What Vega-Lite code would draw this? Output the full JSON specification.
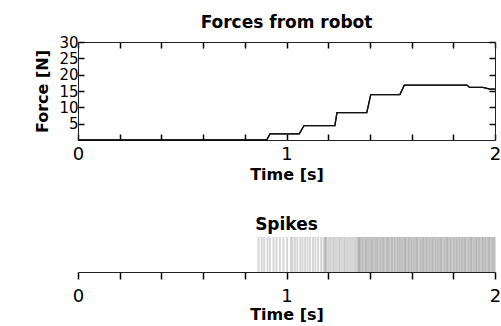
{
  "$schema": "https://vega.github.io/schema/vega-lite/v6.json",
  "padding": {"left": 34, "top": 14, "right": 0, "bottom": 0},
  "config": {
    "view": {"stroke": null},
    "font": "DejaVu Sans",
    "axis": {"labelFont": "DejaVu Sans", "labelFontSize": 15, "labelColor": "black", "titleFont": "DejaVu Sans", "titleFontSize": 16, "titleFontWeight": "bold", "titleColor": "black", "domainColor": "#222", "ticks": true, "tickColor": "black", "tickOpacity": 1, "tickWidth": 1.5, "grid": false, "labelFlush": false, "labelOverlap": false},
    "title": {"font": "DejaVu Sans", "fontSize": 17, "fontWeight": "bold", "color": "black"},
    "concat": {"spacing": 34}
  },
  "datasets": {
    "force": [
      {"time": 0, "force": 0}, {"time": 0.905, "force": 0}, {"time": 0.921, "force": 1.9}, {"time": 1.061, "force": 1.9},
      {"time": 1.084, "force": 4.4}, {"time": 1.232, "force": 4.4}, {"time": 1.242, "force": 8.4}, {"time": 1.385, "force": 8.4},
      {"time": 1.404, "force": 13.9}, {"time": 1.544, "force": 13.9}, {"time": 1.565, "force": 16.8}, {"time": 1.866, "force": 16.8},
      {"time": 1.878, "force": 16.1}, {"time": 1.942, "force": 16.1}, {"time": 1.976, "force": 15.6}, {"time": 2.0, "force": 15.6}
    ],
    "spikes": [
      {"t": 0.866}, {"t": 0.881}, {"t": 0.893}, {"t": 0.909}, {"t": 0.921}, {"t": 0.938}, {"t": 0.952}, {"t": 0.968}, {"t": 0.985}, {"t": 1.003},
      {"t": 1.021}, {"t": 1.029}, {"t": 1.041}, {"t": 1.052}, {"t": 1.066}, {"t": 1.077}, {"t": 1.089}, {"t": 1.101}, {"t": 1.113}, {"t": 1.127}, {"t": 1.139}, {"t": 1.152}, {"t": 1.166}, {"t": 1.178},
      {"t": 1.186}, {"t": 1.188}, {"t": 1.196}, {"t": 1.205}, {"t": 1.213}, {"t": 1.223}, {"t": 1.231}, {"t": 1.24}, {"t": 1.249}, {"t": 1.257}, {"t": 1.266}, {"t": 1.276}, {"t": 1.284}, {"t": 1.293}, {"t": 1.302}, {"t": 1.311}, {"t": 1.32}, {"t": 1.329}, {"t": 1.337},
      {"t": 1.345}, {"t": 1.347}, {"t": 1.352}, {"t": 1.358}, {"t": 1.364}, {"t": 1.369}, {"t": 1.376}, {"t": 1.381}, {"t": 1.387}, {"t": 1.393}, {"t": 1.398}, {"t": 1.405}, {"t": 1.41}, {"t": 1.416}, {"t": 1.422}, {"t": 1.428}, {"t": 1.433}, {"t": 1.439}, {"t": 1.446}, {"t": 1.451}, {"t": 1.457}, {"t": 1.463}, {"t": 1.468}, {"t": 1.475}, {"t": 1.481}, {"t": 1.486}, {"t": 1.492}, {"t": 1.499},
      {"t": 1.505}, {"t": 1.509}, {"t": 1.517}, {"t": 1.521}, {"t": 1.529}, {"t": 1.534}, {"t": 1.541}, {"t": 1.545}, {"t": 1.552}, {"t": 1.557}, {"t": 1.564}, {"t": 1.569}, {"t": 1.573}, {"t": 1.581}, {"t": 1.586}, {"t": 1.591}, {"t": 1.598}, {"t": 1.603}, {"t": 1.61}, {"t": 1.614}, {"t": 1.621}, {"t": 1.626}, {"t": 1.631}, {"t": 1.639}, {"t": 1.643}, {"t": 1.65}, {"t": 1.655}, {"t": 1.66}, {"t": 1.667}, {"t": 1.672}, {"t": 1.677}, {"t": 1.685}, {"t": 1.689}, {"t": 1.696}, {"t": 1.701}, {"t": 1.706}, {"t": 1.713}, {"t": 1.718}, {"t": 1.725}, {"t": 1.729}, {"t": 1.736}, {"t": 1.741}, {"t": 1.746}, {"t": 1.754}, {"t": 1.758}, {"t": 1.765}, {"t": 1.77}, {"t": 1.775}, {"t": 1.782}, {"t": 1.787}, {"t": 1.792}, {"t": 1.8}, {"t": 1.804}, {"t": 1.811}, {"t": 1.816}, {"t": 1.821}, {"t": 1.828}, {"t": 1.833}, {"t": 1.84}, {"t": 1.844}, {"t": 1.851}, {"t": 1.856}, {"t": 1.861}, {"t": 1.869}, {"t": 1.873}, {"t": 1.88}, {"t": 1.885}, {"t": 1.89}, {"t": 1.897}, {"t": 1.902}, {"t": 1.909}, {"t": 1.913}, {"t": 1.92}, {"t": 1.925}, {"t": 1.93}, {"t": 1.938}, {"t": 1.942}, {"t": 1.949}, {"t": 1.954}, {"t": 1.959}, {"t": 1.966}, {"t": 1.971}, {"t": 1.976}, {"t": 1.984}, {"t": 1.988}, {"t": 1.994}, {"t": 1.999}
    ]
  },
  "vconcat": [
    {
      "title": {"text": "Forces from robot", "offset": 3},
      "width": 417,
      "height": 98,
      "data": {"name": "force"},
      "layer": [
        {
          "mark": {"type": "line", "color": "#111", "strokeWidth": 1.3},
          "encoding": {
            "x": {"field": "time", "type": "quantitative", "scale": {"domain": [0, 2], "nice": false},
              "axis": {"title": "Time [s]", "values": [0, 0.2, 0.4, 0.6, 0.8, 1, 1.2, 1.4, 1.6, 1.8, 2], "tickSize": -6, "labelFontSize": 18, "labelPadding": 11, "format": "~g", "labelOpacity": {"condition": {"test": "datum.value % 1 == 0", "value": 1}, "value": 0}, "titlePadding": 3}},
            "y": {"field": "force", "type": "quantitative", "scale": {"domain": [0, 30], "nice": false},
              "axis": {"title": "Force [N]", "values": [5, 10, 15, 20, 25, 30], "tickSize": -6, "labelPadding": 6, "titlePadding": 8}}
          }
        },
        {
          "mark": {"type": "line", "color": "#111", "strokeWidth": 1.3},
          "encoding": {
            "x": {"field": "time", "type": "quantitative", "scale": {"domain": [0, 2], "nice": false},
              "axis": {"orient": "top", "title": null, "labels": false, "values": [0, 0.2, 0.4, 0.6, 0.8, 1, 1.2, 1.4, 1.6, 1.8, 2], "tickSize": -6}},
            "y": {"field": "force", "type": "quantitative", "scale": {"domain": [0, 30], "nice": false},
              "axis": {"orient": "right", "title": null, "labels": false, "values": [5, 10, 15, 20, 25, 30], "tickSize": -6}}
          }
        }
      ],
      "resolve": {"axis": {"x": "independent", "y": "independent"}}
    },
    {
      "title": {"text": "Spikes", "offset": 2},
      "width": 417,
      "height": 35,
      "data": {"name": "spikes"},
      "mark": {"type": "rule", "color": "#222", "opacity": 0.18, "strokeWidth": 2},
      "encoding": {
        "x": {"field": "t", "type": "quantitative", "scale": {"domain": [0, 2], "nice": false},
          "axis": {"title": "Time [s]", "values": [0, 0.2, 0.4, 0.6, 0.8, 1, 1.2, 1.4, 1.6, 1.8, 2], "tickSize": 7, "labelFontSize": 18, "labelPadding": 8, "format": "~g", "labelOpacity": {"condition": {"test": "datum.value % 1 == 0", "value": 1}, "value": 0}, "titlePadding": 1}}
      }
    }
  ]
}
